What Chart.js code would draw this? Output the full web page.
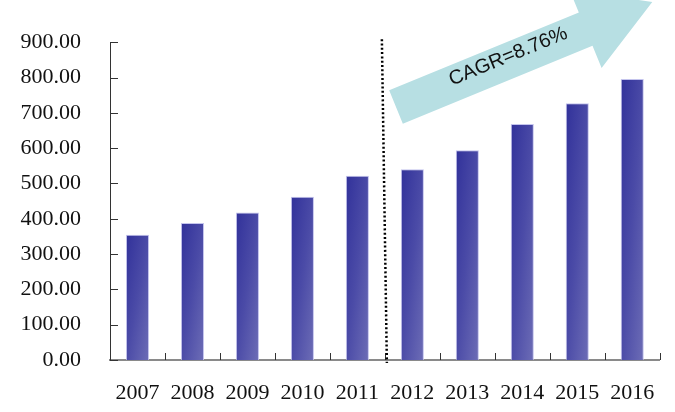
<!DOCTYPE html>
<html>
<head>
<meta charset="utf-8">
<script src="https://cdn.jsdelivr.net/npm/chart.js@4/dist/chart.umd.min.js"></script>
<style>
  html, body { margin: 0; padding: 0; background: #fff; }
  #wrap { width: 675px; height: 412px; }
</style>
</head>
<body>
<div id="wrap"><canvas id="cagrChart"></canvas></div>
<script>
// yearly values, 2007-2011 actual and 2012-2016 forecast
const years = ["2007", "2008", "2009", "2010", "2011", "2012", "2013", "2014", "2015", "2016"];
const values = [355, 388, 418, 462, 522, 540, 594, 668, 727, 796];
const yTicks = [0, 100, 200, 300, 400, 500, 600, 700, 800, 900];
const cagrLabel = "CAGR=8.76%";
const splitAfter = 4; // dotted divider between 2011 and 2012

const serif = "'Liberation Serif', 'DejaVu Serif', serif";

// gradient per bar: dark top-left to lighter bottom-right,
// weighted evenly across width and height
function barFill(ctx) {
  const chart = ctx.chart;
  const xs = chart.scales.x, ys = chart.scales.y;
  if (!xs || !ys || !chart.chartArea) return "#4a4aa4";
  const step = xs.width / years.length;
  const cx = xs.getPixelForValue(ctx.dataIndex);
  const w = step * 0.42;
  const top = ys.getPixelForValue(values[ctx.dataIndex]);
  const h = Math.max(ys.bottom - top, 1);
  const ux = 1 / (2 * w), uy = 1 / (2 * h);
  const n = ux * ux + uy * uy;
  const x0 = cx - w / 2, y0 = top;
  const g = chart.ctx.createLinearGradient(x0, y0, x0 + ux / n, y0 + uy / n);
  g.addColorStop(0, "#31319a");
  g.addColorStop(0.5, "#4b4ba7");
  g.addColorStop(1, "#6d6db6");
  return g;
}

// inner tick marks, dotted divider and the CAGR arrow
const decorations = {
  id: "decorations",
  afterDatasetsDraw(chart) {
    const c = chart.ctx;
    const xs = chart.scales.x, ys = chart.scales.y;
    const step = xs.width / years.length;
    c.save();

    // y tick marks pointing into the plot
    c.strokeStyle = "#333";
    c.lineWidth = 1;
    yTicks.forEach(v => {
      const y = Math.round(ys.getPixelForValue(v)) + 0.5;
      c.beginPath();
      c.moveTo(xs.left, y);
      c.lineTo(xs.left + 8, y);
      c.stroke();
    });
    // x tick marks at category boundaries
    for (let i = 1; i <= years.length; i++) {
      const x = Math.round(xs.left + step * i) + 0.5;
      c.beginPath();
      c.moveTo(x, ys.bottom);
      c.lineTo(x, ys.bottom - 7);
      c.stroke();
    }

    // dotted divider
    const dx = xs.getPixelForValue(splitAfter + 0.5);
    c.strokeStyle = "#000";
    c.lineWidth = 2.5;
    c.setLineDash([2, 2.3]);
    c.beginPath();
    c.moveTo(dx - 3, ys.top - 3);
    c.lineTo(dx + 2, ys.bottom + 3);
    c.stroke();
    c.setLineDash([]);

    // CAGR arrow
    const ang = Math.atan2(-105, 256);
    c.translate(396, 107);
    c.rotate(ang);
    const shaftLen = 205, half = 18, headHalf = 42, headLen = 72;
    c.fillStyle = "#b7dfe3";
    c.beginPath();
    c.moveTo(0, -half);
    c.lineTo(shaftLen, -half);
    c.lineTo(shaftLen, -headHalf);
    c.lineTo(shaftLen + headLen, 0);
    c.lineTo(shaftLen, headHalf);
    c.lineTo(shaftLen, half);
    c.lineTo(0, half);
    c.closePath();
    c.fill();
    c.fillStyle = "#111";
    c.font = "20px 'Liberation Sans', Arial, sans-serif";
    c.textAlign = "center";
    c.textBaseline = "middle";
    c.fillText(cagrLabel, 123, -4);
    c.restore();
  }
};

new Chart(document.getElementById("cagrChart"), {
  type: "bar",
  data: {
    labels: years,
    datasets: [{
      data: values,
      backgroundColor: barFill,
      borderColor: "rgba(190,190,235,0.9)",
      borderWidth: 1,
      categoryPercentage: 1,
      barPercentage: 0.42
    }]
  },
  options: {
    responsive: true,
    maintainAspectRatio: false,
    animation: false,
    layout: { padding: { top: 37, right: 15, bottom: 0, left: 0 } },
    plugins: { legend: { display: false }, tooltip: { enabled: false } },
    scales: {
      x: {
        afterFit(scale) { scale.height = 52; },
        grid: { display: false, drawTicks: false },
        border: { color: "#8a8a8a", width: 2 },
        ticks: { color: "#111", padding: 20, maxRotation: 0, font: { family: serif, size: 22 } }
      },
      y: {
        min: 0,
        max: 900,
        afterBuildTicks(scale) { scale.ticks = yTicks.map(v => ({ value: v })); },
        afterFit(scale) { scale.width = 110; },
        grid: { display: false, drawTicks: false },
        border: { color: "#333", width: 1 },
        ticks: {
          color: "#111",
          padding: 29,
          font: { family: serif, size: 22 },
          callback: v => v.toFixed(2)
        }
      }
    }
  },
  plugins: [decorations]
});
</script>
</body>
</html>
